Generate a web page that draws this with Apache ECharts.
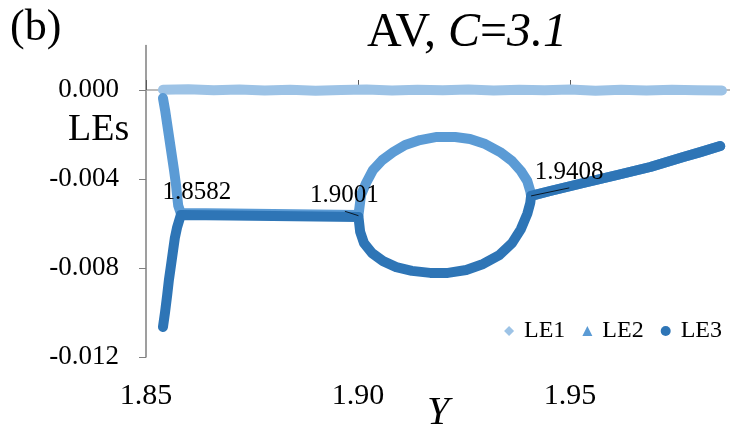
<!DOCTYPE html>
<html>
<head>
<meta charset="utf-8">
<script src="https://cdn.jsdelivr.net/npm/echarts@6/dist/echarts.min.js"></script>
<style>
  html, body { margin: 0; padding: 0; background: #fff; }
  #chart { width: 730px; height: 430px; }
</style>
</head>
<body>
<div id="chart"></div>
<script>
// Lyapunov exponents of the AV system versus Y (C = 3.1)
const seriesNames = ['LE1', 'LE2', 'LE3'];
const yTicks = [-0.012, -0.008, -0.004, 0.000];
const xTicks = [1.85, 1.90, 1.95];
const bifurcations = [1.8582, 1.9001, 1.9408];

// LE1 stays at zero over the whole range
const le1 = [
  [1.8540, 0.00001], [1.8600, 0.00003], [1.8660, -0.00001], [1.8720, 0.00002],
  [1.8780, -0.00002], [1.8840, 0.00001], [1.8900, -0.00003], [1.8960, 0.00000],
  [1.9020, 0.00002], [1.9080, -0.00002], [1.9140, 0.00001], [1.9200, -0.00001],
  [1.9260, 0.00002], [1.9320, -0.00002], [1.9380, 0.00001], [1.9440, -0.00001],
  [1.9500, 0.00002], [1.9560, -0.00003], [1.9620, 0.00001], [1.9680, -0.00002],
  [1.9740, 0.00001], [1.9800, -0.00001], [1.9858, -0.00002]
];

// LE2: falls from zero, joins LE3, then takes the upper half of the loop
const le2 = [
  [1.8540, -0.00036], [1.8545, -0.00090], [1.8552, -0.00180], [1.8559, -0.00270],
  [1.8566, -0.00360], [1.8571, -0.00430], [1.8573, -0.00470], [1.8576, -0.00520],
  [1.8582, -0.00553], [1.8700, -0.00555], [1.8800, -0.00557], [1.8900, -0.00560],
  [1.9001, -0.00562], [1.9007, -0.00472], [1.9019, -0.00418], [1.9035, -0.00360],
  [1.9057, -0.00315], [1.9083, -0.00279], [1.9111, -0.00247], [1.9146, -0.00225],
  [1.9186, -0.00211], [1.9229, -0.00211], [1.9264, -0.00220], [1.9300, -0.00243],
  [1.9335, -0.00279], [1.9363, -0.00319], [1.9384, -0.00364], [1.9399, -0.00409],
  [1.9406, -0.00454], [1.9408, -0.00476], [1.9453, -0.00454], [1.9531, -0.00418],
  [1.9611, -0.00382], [1.9689, -0.00346], [1.9767, -0.00301], [1.9807, -0.00279],
  [1.9854, -0.00252]
];

// LE3: rises from below, runs flat, then takes the lower half of the loop
const le3 = [
  [1.8540, -0.01065], [1.8545, -0.00998], [1.8550, -0.00921], [1.8554, -0.00854],
  [1.8559, -0.00787], [1.8564, -0.00719], [1.8568, -0.00665], [1.8573, -0.00620],
  [1.8582, -0.00562], [1.8700, -0.00564], [1.8800, -0.00566], [1.8900, -0.00569],
  [1.9001, -0.00571], [1.9005, -0.00638], [1.9014, -0.00688], [1.9033, -0.00733],
  [1.9059, -0.00769], [1.9090, -0.00796], [1.9127, -0.00813], [1.9170, -0.00822],
  [1.9212, -0.00822], [1.9255, -0.00809], [1.9295, -0.00782], [1.9333, -0.00742],
  [1.9363, -0.00688], [1.9384, -0.00625], [1.9399, -0.00557], [1.9406, -0.00508],
  [1.9408, -0.00476], [1.9453, -0.00454], [1.9531, -0.00418], [1.9611, -0.00382],
  [1.9689, -0.00346], [1.9767, -0.00301], [1.9807, -0.00279], [1.9854, -0.00252]
];

// where each bifurcation value sits on LE3, and the label offsets
const bifurcationY = [-0.00562, -0.00571, -0.00476];
const labelOffsets = [[16, -23], [-14, -22], [38, -23]];
// short leader lines from labels to the curve
const leaders = [
  [[1.8969, -0.00545], [1.9001, -0.00565]],
  [[1.9408, -0.00476], [1.9498, -0.00440]]
];

const colors = ['#9DC3E6', '#5B9BD5', '#2E75B6'];
const icons = ['diamond', 'triangle', 'circle'];
const serif = "'Liberation Serif', 'Times New Roman', serif";

const chart = echarts.init(document.getElementById('chart'));

function band(name, data, color, extra) {
  return Object.assign({
    name: name,
    type: 'line',
    data: data,
    showSymbol: false,
    symbol: 'none',
    smooth: false,
    color: color,
    lineStyle: { color: color, width: 10, cap: 'round', join: 'round' },
    emphasis: { disabled: true },
    animation: false
  }, extra || {});
}

chart.setOption({
  backgroundColor: '#fff',
  textStyle: { fontFamily: serif },
  title: {
    text: '{n|AV, }{i|C}{n|=}{i|3.1}',
    left: 362,
    top: 4,
    textStyle: {
      rich: {
        n: { fontFamily: serif, fontSize: 48, fontWeight: 'normal', color: '#000' },
        i: { fontFamily: serif, fontSize: 48, fontWeight: 'normal', fontStyle: 'italic', color: '#000' }
      }
    }
  },
  graphic: [
    { type: 'text', left: 10, top: 6, style: { text: '(b)', font: '44px ' + serif, fill: '#000' } },
    { type: 'text', left: 68, top: 111, style: { text: 'LEs', font: '38px ' + serif, fill: '#000' } }
  ],
  legend: {
    data: seriesNames.map((n, i) => ({ name: n, icon: icons[i] })),
    right: 3,
    top: 314,
    itemWidth: 10,
    itemHeight: 10,
    itemGap: 17,
    textStyle: { fontFamily: serif, fontSize: 24, color: '#000', padding: [0, 0, 0, 5] },
    selectedMode: false
  },
  grid: { left: 146, right: 0, top: 45.5, bottom: 73, containLabel: false, outerBoundsMode: 'none' },
  xAxis: {
    type: 'value',
    min: 1.85,
    max: 1.9877,
    interval: 0.05,
    name: 'Y',
    nameLocation: 'middle',
    nameGap: 36,
    nameMoveOverlap: false,
    nameTextStyle: { fontFamily: serif, fontSize: 40, fontStyle: 'italic', color: '#000' },
    axisLine: { show: true, lineStyle: { color: '#a6a6a6', width: 1.5 } },
    axisTick: { show: true, inside: true, length: 10, customValues: xTicks, lineStyle: { color: '#595959' } },
    axisLabel: {
      customValues: xTicks,
      formatter: v => v.toFixed(2),
      fontFamily: serif, fontSize: 30, color: '#000', margin: 24
    },
    splitLine: { show: false }
  },
  yAxis: {
    type: 'value',
    min: -0.012,
    max: 0.002,
    interval: 0.004,
    axisLine: { show: true, lineStyle: { color: '#7f7f7f', width: 1.5 } },
    axisTick: { show: true, inside: false, length: 7, customValues: yTicks, lineStyle: { color: '#7f7f7f' } },
    axisLabel: {
      customValues: yTicks,
      formatter: v => v.toFixed(3),
      fontFamily: serif, fontSize: 27, color: '#000', margin: 27
    },
    splitLine: { show: false }
  },
  series: [
    band('LE1', le1, colors[0]),
    band('LE2', le2, colors[1]),
    band('LE3', le3, colors[2], {
      markPoint: {
        silent: true,
        symbol: 'circle',
        symbolSize: 0,
        data: bifurcations.map((b, i) => ({
          coord: [b, bifurcationY[i]],
          value: b,
          label: {
            show: true,
            position: 'inside',
            offset: labelOffsets[i],
            formatter: b.toFixed(4),
            fontFamily: serif,
            fontSize: 25,
            color: '#000'
          }
        }))
      },
      markLine: {
        silent: true,
        symbol: 'none',
        label: { show: false },
        lineStyle: { color: '#000', width: 0.8, type: 'solid' },
        data: leaders.map(p => [{ coord: p[0] }, { coord: p[1] }])
      }
    })
  ]
});
</script>
</body>
</html>
